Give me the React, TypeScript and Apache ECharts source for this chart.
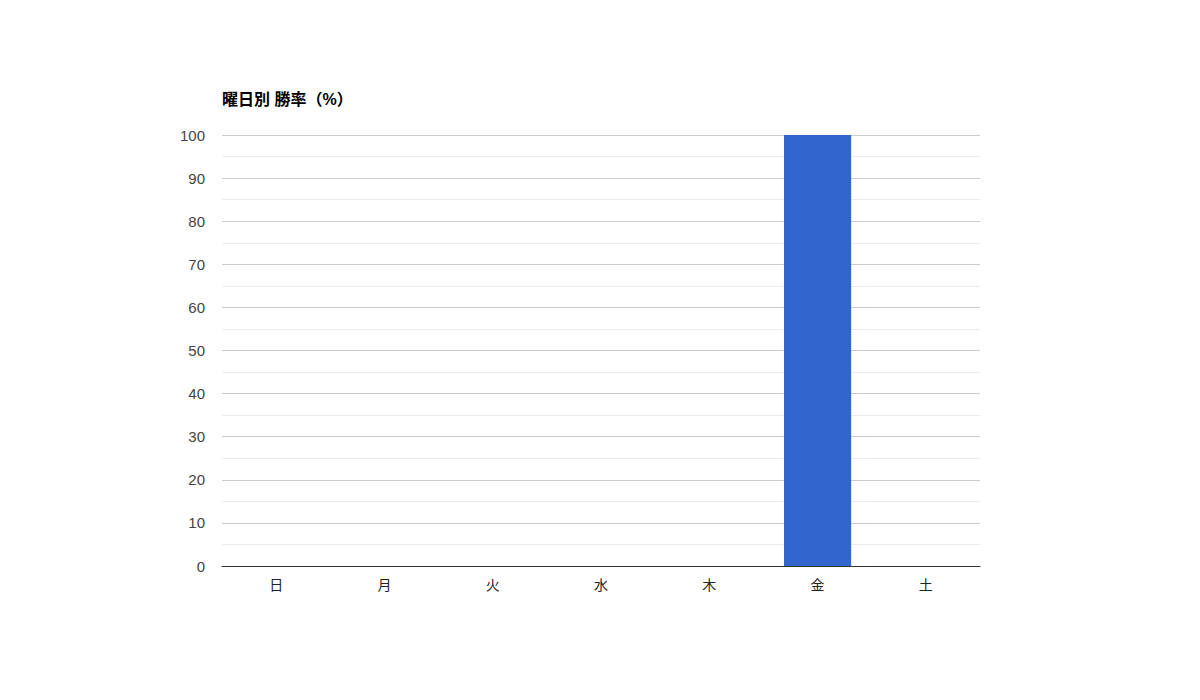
import { useEffect, useRef } from 'react'
import * as echarts from 'echarts'

// 曜日別 勝率
const days = ['日', '月', '火', '水', '木', '金', '土']
const winRates = [0, 0, 0, 0, 0, 100, 0]

const font = '"Liberation Sans", Arial, "Noto Sans CJK JP", sans-serif'

export default function App() {
  const chartRef = useRef<HTMLDivElement>(null)

  useEffect(() => {
    if (!chartRef.current) return
    const chart = echarts.init(chartRef.current, undefined, { renderer: 'svg' })

    const option: echarts.EChartsOption = {
      animation: false,
      backgroundColor: '#ffffff',
      title: {
        text: '曜日別 勝率（%）',
        left: 222,
        top: 91,
        padding: 0,
        textStyle: { fontFamily: font, fontSize: 16, fontWeight: 'bold', color: '#000000' },
      },
      grid: { left: 222, right: 220, top: 135, bottom: 134, containLabel: false },
      xAxis: {
        type: 'category',
        data: days,
        axisTick: { show: false },
        axisLine: { lineStyle: { color: '#333333', width: 1 } },
        axisLabel: { color: '#222222', fontSize: 14, fontFamily: font, margin: 12 },
        splitLine: { show: false },
      },
      yAxis: {
        type: 'value',
        min: 0,
        max: 100,
        interval: 10,
        axisLine: { show: false },
        axisTick: { show: false },
        axisLabel: { color: '#444444', fontSize: 15, fontFamily: font, margin: 17 },
        splitLine: { lineStyle: { color: '#cccccc', width: 1 } },
        minorTick: { show: false, splitNumber: 2 },
        minorSplitLine: { show: true, lineStyle: { color: '#ebebeb', width: 1 } },
      },
      series: [
        {
          type: 'bar',
          data: winRates,
          barCategoryGap: '38%',
          itemStyle: { color: '#3366cc' },
        },
      ],
    }

    chart.setOption(option)
    return () => chart.dispose()
  }, [])

  return (
    <div
      ref={chartRef}
      style={{ position: 'absolute', left: 0, top: 0, width: 1200, height: 700 }}
    />
  )
}
